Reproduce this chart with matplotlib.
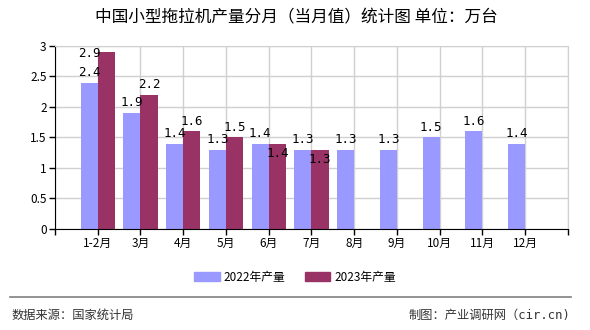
import matplotlib
matplotlib.use("Agg")
import matplotlib.pyplot as plt
from matplotlib.lines import Line2D
from matplotlib.patches import Patch

plt.rcParams['font.family'] = ['Noto Sans CJK SC', 'DejaVu Sans']

# データ
months = ["1-2月", "3月", "4月", "5月", "6月", "7月", "8月", "9月", "10月", "11月", "12月"]
prod_2022 = [2.4, 1.9, 1.4, 1.3, 1.4, 1.3, 1.3, 1.3, 1.5, 1.6, 1.4]
prod_2023 = [2.9, 2.2, 1.6, 1.5, 1.4, 1.3]
series_names = ["2022年产量", "2023年产量"]

c22 = "#9999FF"
c23 = "#993366"
w = 0.4

fig = plt.figure(figsize=(5.9, 3.3), dpi=100)
ax = fig.add_axes([0.0932, 0.306, 0.8695, 0.555])

x22 = [i + 1 for i in range(len(prod_2022))]
x23 = [i + 1 for i in range(len(prod_2023))]
ax.bar([x - w / 2 for x in x22], prod_2022, width=w, color=c22, zorder=2)
ax.bar([x + w / 2 for x in x23], prod_2023, width=w, color=c23, zorder=2)

mono = ["DejaVu Sans Mono"]
fs = 9
for x, v in zip(x22, prod_2022):
    ax.text(x - w / 2, v + 0.06, f"{v:.1f}", ha="center", va="bottom",
            fontsize=fs, family=mono, zorder=3)
for i, (x, v) in enumerate(zip(x23, prod_2023)):
    if v + 0.3 > 3:
        # 上限を超えるので左寄せ
        ax.text(x - w / 2, v - 0.03, f"{v:.1f}", ha="center", va="center",
                fontsize=fs, family=mono, zorder=3)
    elif v == prod_2022[i]:
        ax.text(x + w / 2, v - 0.06, f"{v:.1f}", ha="center", va="top",
                fontsize=fs, family=mono, zorder=3)
    else:
        ax.text(x + w / 2, v + 0.06, f"{v:.1f}", ha="center", va="bottom",
                fontsize=fs, family=mono, zorder=3)

ax.set_xlim(0, 12)
ax.set_ylim(0, 3)
ax.set_xticks(range(0, 13))
ax.set_xticklabels([""] + months + [""], fontsize=8.5)
ax.set_yticks([0, 0.5, 1, 1.5, 2, 2.5, 3])
ax.set_yticklabels(["0", "0.5", "1", "1.5", "2", "2.5", "3"], fontsize=8.5)
ax.tick_params(axis="both", length=4, width=1, color="black", pad=2)
ax.grid(True, color="#D0D0D0", linewidth=1, zorder=0)
ax.set_axisbelow(True)
for s in ["top", "right"]:
    ax.spines[s].set_color("#D0D0D0")
for s in ["left", "bottom"]:
    ax.spines[s].set_color("black")

fig.text(0.502, 0.945, "中国小型拖拉机产量分月（当月值）统计图 单位：万台",
         ha="center", va="center", fontsize=12)

handles = [Patch(color=c22), Patch(color=c23)]
fig.legend(handles, series_names, loc="center", bbox_to_anchor=(0.5, 0.16),
           ncol=2, frameon=False, fontsize=8.5, handlelength=2.2,
           handleheight=0.7, handletextpad=0.3, columnspacing=1.6)

fig.add_artist(Line2D([0.017, 0.968], [0.1, 0.1], color="#808080", linewidth=1.2))
fig.text(0.02, 0.045, "数据来源：国家统计局", ha="left", va="center",
         fontsize=8.8, color="#333333")
fig.text(0.966, 0.045, "制图：产业调研网（cir.cn)", ha="right", va="center",
         fontsize=8.8, color="#333333",
         family=["DejaVu Sans Mono", "Noto Sans CJK SC"])

fig.savefig("out.png", dpi=100)
